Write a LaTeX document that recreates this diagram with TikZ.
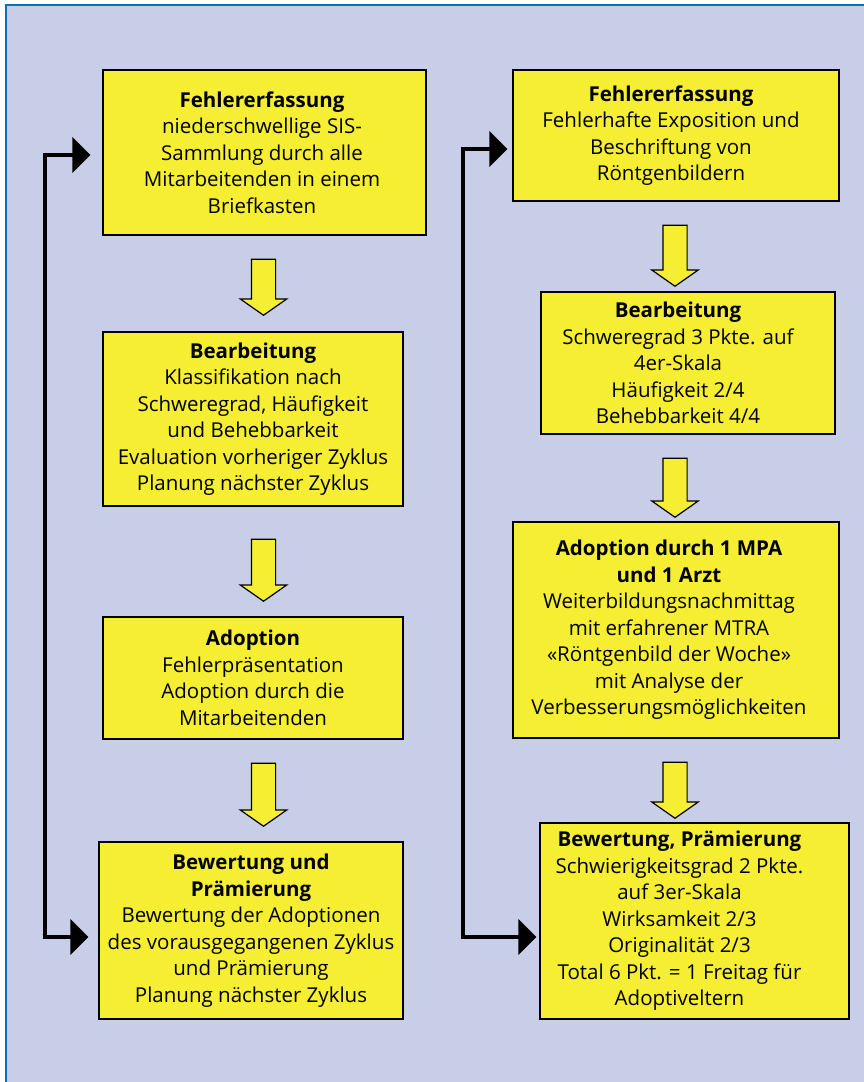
\documentclass[tikz,border=0pt]{standalone}
\usepackage{fontspec}
\setmainfont{Open Sans}
\usepackage{tikz}
\usetikzlibrary{shapes.arrows, arrows.meta, positioning}
\definecolor{bgcolor}{RGB}{201,206,232}
\definecolor{framecolor}{RGB}{0,112,192}
\definecolor{boxcolor}{RGB}{245,238,50}

\begin{document}
\begin{tikzpicture}[x=1pt, y=-1pt,
        box/.style={rectangle, draw, line width=1.2pt, fill=boxcolor},
        txt/.style={align=center, inner sep=0pt, font=\fontsize{20.5}{26.5}\selectfont},
        downarrow/.style={single arrow, draw, line width=1.2pt, fill=boxcolor, minimum width=45pt,
            single arrow head extend=11pt, single arrow tip angle=110, inner xsep=0pt, inner ysep=11.5pt, rotate=-90},
        loopline/.style={{Triangle[length=18pt,width=35pt]}-{Triangle[length=18pt,width=35pt]}, line width=3.5pt}
    ]
        \useasboundingbox (0,0) rectangle (864,1082);

        % Background and frame
        \fill[bgcolor] (6,5) rectangle (864,1082);
        \draw[framecolor, line width=1.5pt] (6,1082) -- (6,5) -- (864,5);

        % Left column
        \node[box, minimum width=323pt, minimum height=165pt] (l1) at (264.5,152.5) {};
        \node[txt] (l1t) at (262,152.5) {\textbf{Fehlererfassung}\\niederschwellige SIS-\\Sammlung durch alle\\Mitarbeitenden in einem\\Briefkasten};

        \node[box, minimum width=300pt, minimum height=174pt] (l2) at (253,419) {};
        \node[txt] (l2t) at (253,419) {\textbf{Bearbeitung}\\Klassifikation nach\\Schweregrad, Häufigkeit\\und Behebbarkeit\\Evaluation vorheriger Zyklus\\Planung nächster Zyklus};

        \node[box, minimum width=300pt, minimum height=122pt] (l3) at (253,678) {};
        \node[txt] (l3t) at (253,678) {\textbf{Adoption}\\Fehlerpräsentation\\Adoption durch die\\Mitarbeitenden};

        \node[box, minimum width=304pt, minimum height=177pt] (l4) at (251,930.5) {};
        \node[txt] (l4t) at (251,930.5) {\textbf{Bewertung und}\\\textbf{Prämierung}\\Bewertung der Adoptionen\\des vorausgegangenen Zyklus\\und Prämierung\\Planung nächster Zyklus};

        % Arrows between left boxes
        \node[downarrow, minimum height=56pt] (la1) at (263.5,283) {};
        \node[downarrow, minimum height=62pt] (la2) at (263.5,566) {};
        \node[downarrow, minimum height=63pt] (la3) at (263.5,790.5) {};

        % Right column
        \node[box, minimum width=326pt, minimum height=131pt] (r1) at (676,135.5) {};
        \node[txt] (r1t) at (671,135.5) {\textbf{Fehlererfassung}\\Fehlerhafte Exposition und\\Beschriftung von\\Röntgenbildern};

        \node[box, minimum width=294pt, minimum height=142pt] (r2) at (688,363) {};
        \node[txt] (r2t) at (678,363) {\textbf{Bearbeitung}\\Schweregrad 3 Pkte. auf\\4er-Skala\\Häufigkeit 2/4\\Behebbarkeit 4/4};

        \node[box, minimum width=326pt, minimum height=216pt] (r3) at (676,630) {};
        \node[txt] (r3t) at (669,630) {\textbf{Adoption durch 1 MPA}\\\textbf{und 1 Arzt}\\Weiterbildungsnachmittag\\mit erfahrener MTRA\\«Röntgenbild der Woche»\\mit Analyse der\\Verbesserungsmöglichkeiten};

        \node[box, minimum width=309pt, minimum height=196pt] (r4) at (694.5,921) {};
        \node[txt] (r4t) at (679.5,921) {\textbf{Bewertung, Prämierung}\\Schwierigkeitsgrad 2 Pkte.\\auf 3er-Skala\\Wirksamkeit 2/3\\Originalität 2/3\\Total 6 Pkt. = 1 Freitag für\\Adoptiveltern};

        % Arrows between right boxes
        \node[downarrow, minimum height=61pt] (ra1) at (675,251.5) {};
        \node[downarrow, minimum height=59pt] (ra2) at (675,483.5) {};
        \node[downarrow, minimum height=56pt] (ra3) at (675,786) {};

        % Feedback loops
        \draw[loopline, shorten <=12pt, shorten >=10pt] ([yshift=-2.5pt]l1.west) -| (45,540) |- ([yshift=-6.5pt]l4.west);
        \draw[loopline, shorten <=5pt, shorten >=3pt] ([yshift=-13.5pt]r1.west) -| (463,540) |- ([yshift=-16pt]r4.west);

    \end{tikzpicture}
\end{document}
